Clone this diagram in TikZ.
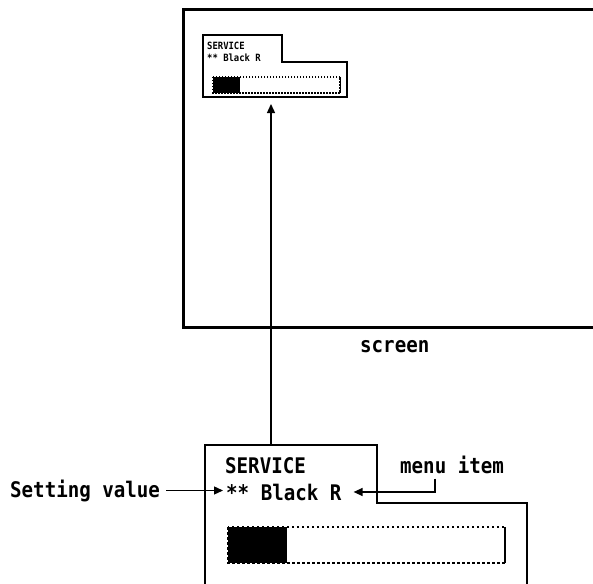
\documentclass[tikz,border=0pt]{standalone}
\usepackage{fontspec}
\newfontfamily\gothic[FakeStretch=0.89]{DejaVu Sans Mono}
\usetikzlibrary{arrows.meta}
\tikzset{
  lbl/.style={font=\gothic\bfseries\fontsize{21.5}{23}\selectfont, inner sep=0pt, anchor=base west},
  tinylbl/.style={font=\gothic\bfseries\fontsize{10}{11}\selectfont, inner sep=0pt, anchor=base west},
  frame/.style={line width=1.8pt},
  dotbar/.style={line width=1.6pt, dash pattern=on 2.5pt off 2.5pt},
  conn/.style={->, line width=1.3pt},
}
\begin{document}
\begin{tikzpicture}[x=1pt,y=-1pt,>={Triangle[length=9pt,width=8pt]}]
  \clip (0,0) rectangle (593,583);
  % screen
  \draw[line width=3pt] (183,10) rectangle (620,327);
  \node[lbl] (screen) at (360,352) {screen};
  % small panel on the screen
  \draw[line width=1.3pt] (203,35) -- (282,35) -- (282,62) -- (347,62) -- (347,97) -- (203,97) -- cycle;
  \node[tinylbl] (minititle) at (207,50) {SERVICE};
  \node[tinylbl] (miniitem) at (207,62) {** Black R};
  \draw[dotbar, line width=1.1pt, dash pattern=on 1.5pt off 1.5pt] (213,77) rectangle (340,93);
  \draw[line width=1pt] (340,77) -- (340,93);
  \fill (213,77) rectangle (240,93);
  \coordinate (minibottom) at (271,104);
  % panel
  \draw[frame] (205,600) -- (205,445) -- (377,445) -- (377,503) -- (527,503) -- (527,600);
  \coordinate (paneltop) at (271,445);
  \node[lbl] (title) at (225,473) {SERVICE};
  \node[lbl] (item) at (226,500) {** Black R};
  \draw[dotbar] (228,527) rectangle (505,563);
  \draw[line width=1.6pt] (505,527) -- (505,563);
  \fill (228,527) rectangle (287,563);
  % labels
  \node[lbl] (setval) at (10,497) {Setting value};
  \node[lbl] (menu) at (400,473) {menu item};
  \draw[conn] (paneltop) -- (minibottom);
  \draw[conn] ([xshift=6pt]setval.east) -- ([xshift=-3pt]setval.east -| item.west);
  \draw[conn] ([xshift=-17pt,yshift=-5pt]menu.south) |- ([xshift=12pt]item.east);
\end{tikzpicture}
\end{document}
